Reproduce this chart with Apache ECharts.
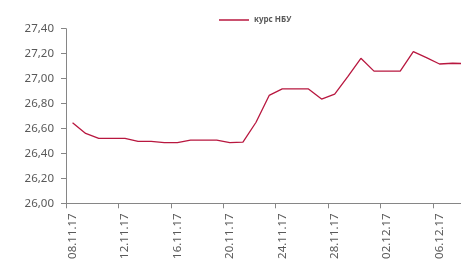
<!DOCTYPE html>
<html>
<head>
<meta charset="utf-8">
<script src="https://cdn.jsdelivr.net/npm/echarts@6/dist/echarts.min.js"></script>
<style>
html,body{margin:0;padding:0;background:#fff;}
#chart{width:461px;height:260px;}
</style>
</head>
<body>
<div id="chart"></div>
<script>
var categories = ['08.11.17','09.11.17','10.11.17','11.11.17','12.11.17','13.11.17','14.11.17','15.11.17','16.11.17','17.11.17','18.11.17','19.11.17','20.11.17','21.11.17','22.11.17','23.11.17','24.11.17','25.11.17','26.11.17','27.11.17','28.11.17','29.11.17','30.11.17','01.12.17','02.12.17','03.12.17','04.12.17','05.12.17','06.12.17','07.12.17','08.12.17'];
var seriesName = 'курс НБУ';
var rateValues = [26.646,26.56,26.52,26.52,26.52,26.497,26.497,26.486,26.486,26.507,26.507,26.507,26.486,26.49,26.65,26.865,26.917,26.917,26.917,26.836,26.876,27.015,27.163,27.06,27.06,27.06,27.216,27.168,27.117,27.123,27.12];
var yTicks = {min: 26.0, max: 27.4, interval: 0.2};

var chart = echarts.init(document.getElementById('chart'), null, {renderer: 'canvas'});
var labelFont = {color: '#595959', fontSize: 11.5, fontFamily: 'Noto Sans'};
chart.setOption({
  animation: false,
  backgroundColor: '#ffffff',
  legend: {
    data: [seriesName],
    left: 214,
    top: 11,
    icon: 'rect',
    itemWidth: 30,
    itemHeight: 1.5,
    itemGap: 4,
    textStyle: {color: '#595959', fontSize: 8, fontWeight: 'bold', fontFamily: 'Noto Sans'}
  },
  grid: {left: 66, top: 28.7, width: 406.3, bottom: 56.7, containLabel: false, outerBoundsMode: 'none'},
  xAxis: {
    type: 'category',
    data: categories,
    boundaryGap: true,
    axisLine: {lineStyle: {color: '#868686', width: 1}},
    axisTick: {show: true, interval: 3, length: 5, lineStyle: {color: '#868686'}},
    axisLabel: Object.assign({interval: 3, rotate: 90, margin: 10}, labelFont),
    splitLine: {show: false}
  },
  yAxis: {
    type: 'value',
    min: yTicks.min,
    max: yTicks.max,
    interval: yTicks.interval,
    axisLine: {show: true, lineStyle: {color: '#868686', width: 1}},
    axisTick: {show: true, length: 5, lineStyle: {color: '#868686'}},
    axisLabel: Object.assign({margin: 12, formatter: function(v){ return v.toFixed(2).replace('.', ','); }}, labelFont),
    splitLine: {show: false}
  },
  series: [{
    name: seriesName,
    type: 'line',
    data: rateValues,
    showSymbol: false,
    symbol: 'none',
    lineStyle: {color: '#B8173F', width: 1.3},
    itemStyle: {color: '#B8173F'}
  }]
});
</script>
</body>
</html>
